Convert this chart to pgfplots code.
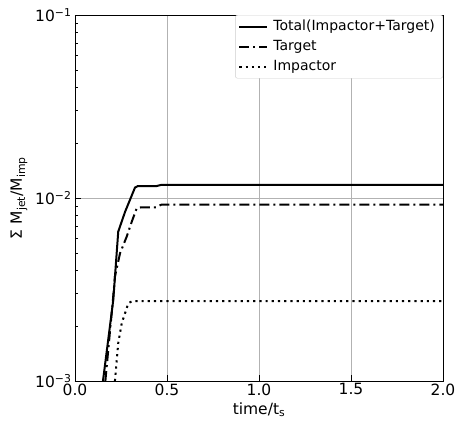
\documentclass[border=0pt]{standalone}
\usepackage{pgfplots}
\pgfplotsset{compat=1.18}
\usepackage{fontspec}
\setmainfont{DejaVu Sans}
\begin{document}
\begin{tikzpicture}
\begin{axis}[
  scale only axis,
  width=368pt, height=366pt,
  xmin=0, xmax=2, ymin=1e-3, ymax=1e-1,
  ymode=log,
  xtick={0,0.5,1,1.5,2},
  xticklabels={0.0,0.5,1.0,1.5,2.0},
  ytick={1e-3,1e-2,1e-1},
  yticklabels={10\textsuperscript{−3},10\textsuperscript{−2},10\textsuperscript{−1}},
  xtick pos=bottom, ytick pos=left,
  tick align=inside,
  major tick length=6pt, minor tick length=3.5pt,
  every tick/.style={black, line width=0.8pt},
  /pgf/number format/assume math mode=true,
  tick label style={font=\fontsize{15.5}{18}\selectfont},
  xticklabel style={yshift=1pt},
  xlabel={time/t\textsubscript{s}},
  ylabel={Σ M\textsubscript{jet}/M\textsubscript{imp}},
  every axis x label/.style={at={([yshift=-29pt]axis description cs:0.5,0)}, anchor=center, font=\fontsize{15.5}{18}\selectfont},
  every axis y label/.style={at={([xshift=-56pt]axis description cs:0,0.5)}, anchor=center, rotate=90, font=\fontsize{15.5}{18}\selectfont},
  xmajorgrids, ymajorgrids,
  major grid style={draw=black!30, line width=0.8pt},
  axis line style={line width=0.9pt},
  legend cell align=left,
  legend image code/.code={\draw[#1] (0pt,0pt) -- (28pt,0pt);},
  legend style={at={(1,1)}, anchor=north east, font=\fontsize{14}{16}\selectfont,
    draw=black!20, rounded corners=2pt, inner xsep=3pt, inner ysep=3pt, row sep=3pt,
    nodes={text height=11pt, text depth=4pt, inner xsep=5pt, inner ysep=1pt}},
]
\coordinate (ll) at (rel axis cs:0,0);
\coordinate (ur) at (rel axis cs:1,1);
\addplot[black, line width=2pt] coordinates {
(0.152,0.001) (0.208,0.00277) (0.235,0.00655) (0.272,0.0084) (0.326,0.01140)
(0.34,0.0116) (0.44,0.0116) (0.47,0.0118) (2.0,0.0118)};
\addlegendentry{Total(Impactor+Target)}
\addplot[black, line width=2pt, dash pattern=on 10pt off 4pt on 2pt off 4pt] coordinates {
(0.165,0.001) (0.205,0.0027) (0.217,0.00372) (0.245,0.0050) (0.281,0.00615)
(0.308,0.0074) (0.335,0.00877) (0.36,0.0089) (0.44,0.0089) (0.47,0.0092) (2.0,0.0092)};
\addlegendentry{Target}
\addplot[black, line width=2pt, dash pattern=on 2.2pt off 4pt] coordinates {
(0.217,0.001) (0.235,0.00161) (0.254,0.00207) (0.29,0.00266) (0.31,0.00273) (2.0,0.00273)};
\addlegendentry{Impactor}
\end{axis}
\pgfresetboundingbox
\path ([shift={(-75pt,-41pt)}]ll) rectangle ([shift={(13pt,15pt)}]ur);
\end{tikzpicture}
\end{document}
